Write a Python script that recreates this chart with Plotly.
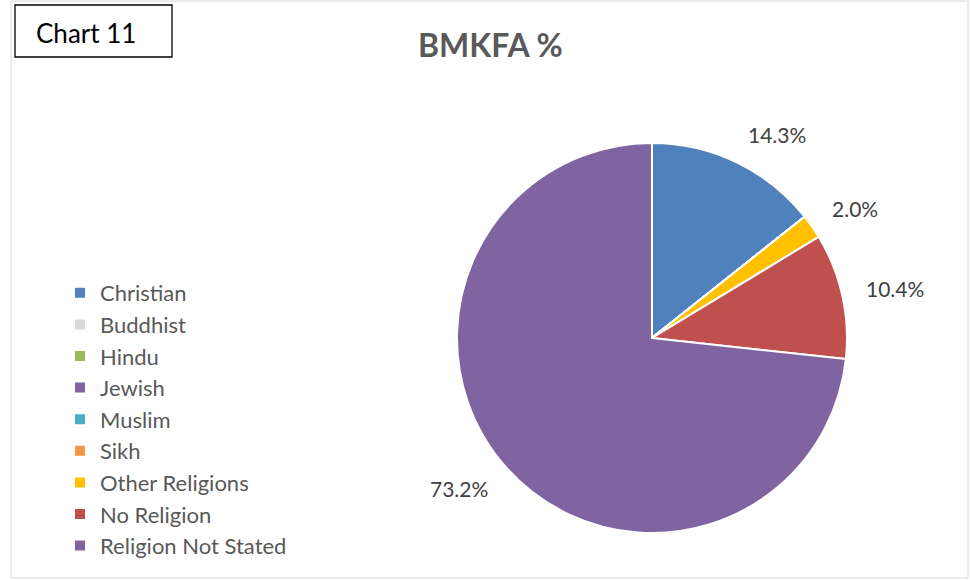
import math
import plotly.graph_objects as go

# Data
categories = ["Christian", "Buddhist", "Hindu", "Jewish", "Muslim", "Sikh",
              "Other Religions", "No Religion", "Religion Not Stated"]
values = [14.3, 0, 0, 0, 0, 0, 2.0, 10.4, 73.2]
colors = ["#4F81BD", "#D9D9D9", "#9BBB59", "#8064A2", "#4BACC6", "#F79646",
          "#FFC000", "#C0504D", "#8064A2"]
title_text = "BMKFA %"
tag_text = "Chart 11"

W, H = 970, 580
FONT = "Lato"

# pie geometry (pixels)
CX, CY, R = 652, 338, 195
LABEL_R = 217
HALF_H = 9

fig = go.Figure(go.Pie(
    labels=categories,
    values=values,
    marker=dict(colors=colors, line=dict(color="white", width=2)),
    sort=False,
    direction="clockwise",
    rotation=0,
    textinfo="none",
    hoverinfo="label+percent",
    domain=dict(x=[(CX - R) / W, (CX + R) / W], y=[1 - (CY + R) / H, 1 - (CY - R) / H]),
    showlegend=True,
))

# data labels positioned from slice mid-angles (outside end)
annotations = []
total = sum(values)
cum = 0.0
for v in values:
    if v > 0:
        mid = (cum + v / 2) / total * 2 * math.pi
        s, c = math.sin(mid), math.cos(mid)
        px = CX + LABEL_R * s
        py = CY - LABEL_R * c - HALF_H * c
        annotations.append(dict(
            text=f"{v:.1f}%", xref="paper", yref="paper",
            x=px / W, y=1 - py / H,
            xanchor="left" if s >= 0 else "right",
            yanchor="middle",
            showarrow=False,
            font=dict(family=FONT, size=21, color="#404040"),
        ))
    cum += v

annotations += [
    dict(text=f"<b>{title_text}</b>", xref="paper", yref="paper",
         x=490 / W, y=1 - 45 / H, xanchor="center", yanchor="middle",
         showarrow=False, font=dict(family=FONT, size=32, color="#595959")),
    dict(text=tag_text, xref="paper", yref="paper",
         x=86 / W, y=1 - 33 / H, xanchor="center", yanchor="middle",
         showarrow=False, font=dict(family=FONT, size=26, color="black")),
]

fig.update_layout(
    width=W, height=H,
    margin=dict(l=0, r=0, t=0, b=0),
    paper_bgcolor="white",
    plot_bgcolor="white",
    font=dict(family=FONT, color="#595959"),
    showlegend=True,
    legend=dict(
        x=(100 - 40) / W, xanchor="left",
        y=1 - 272 / H, yanchor="top",
        font=dict(family=FONT, size=22, color="#595959"),
        bgcolor="rgba(0,0,0,0)",
        traceorder="normal",
    ),
    shapes=[
        dict(type="rect", xref="paper", yref="paper",
             x0=11 / W, x1=968 / W, y0=1 - 578 / H, y1=1 - 1 / H,
             line=dict(color="#D9D9D9", width=1)),
        dict(type="rect", xref="paper", yref="paper",
             x0=15 / W, x1=172 / W, y0=1 - 57 / H, y1=1 - 5 / H,
             line=dict(color="black", width=1.3), fillcolor="white"),
    ],
    annotations=annotations,
)

fig.write_html("out.html", config={"displayModeBar": False},
               post_script="document.body.style.margin='0';")
